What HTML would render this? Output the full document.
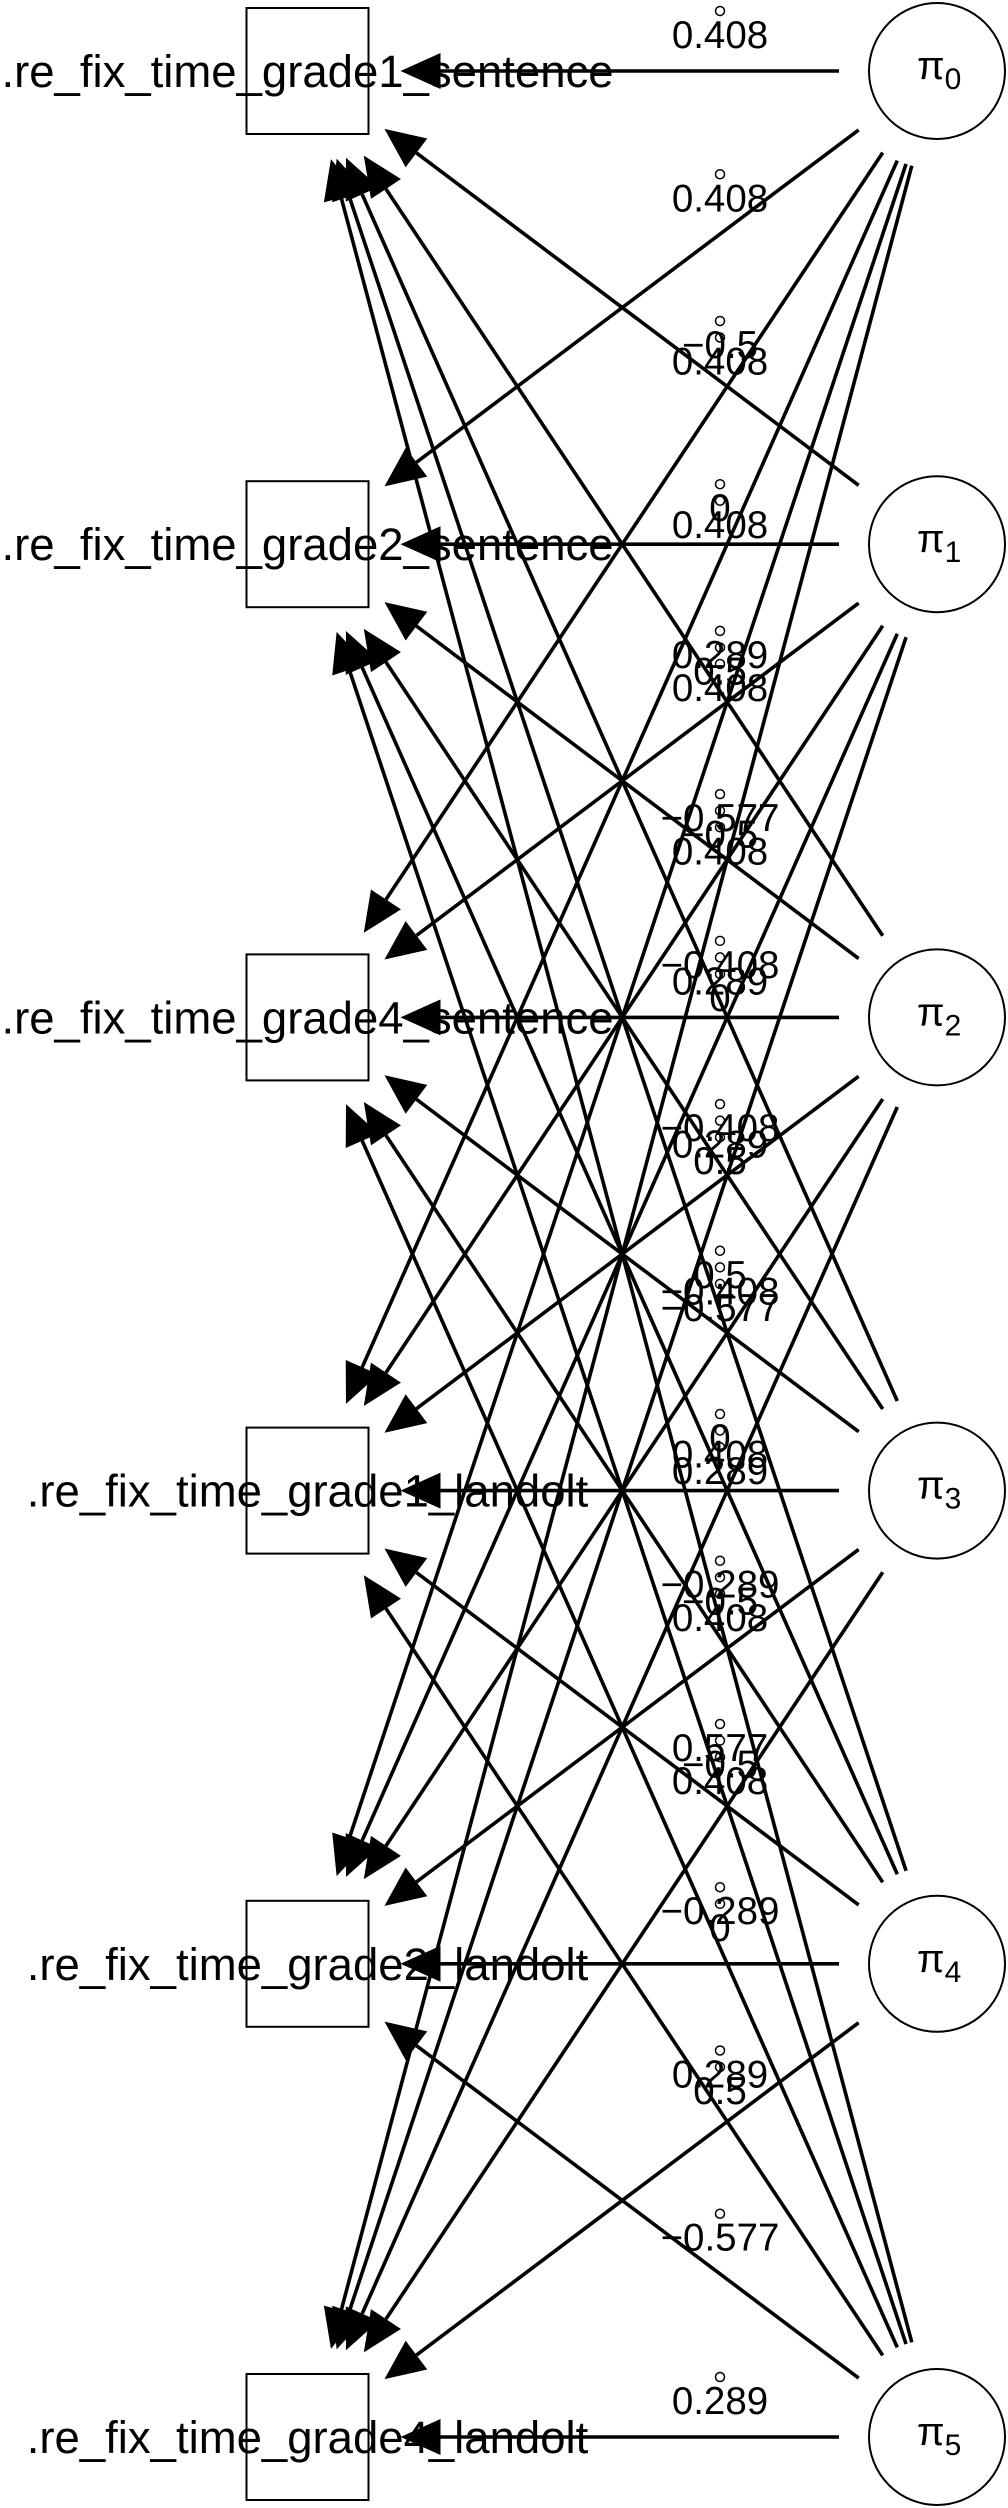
<!DOCTYPE html>
<html><head><meta charset="utf-8"><title>Path diagram</title>
<style>html,body{margin:0;padding:0;background:#fff}svg{display:block}</style></head>
<body>
<svg id="diagram" width="1008" height="2508" viewBox="0 0 1008 2508" xmlns="http://www.w3.org/2000/svg">
<g id="edges"></g>
<g id="elabels"></g>
<g id="nodes"></g>
</svg>
<script>
const observedNames = [".re_fix_time_grade1_sentence", ".re_fix_time_grade2_sentence", ".re_fix_time_grade4_sentence", ".re_fix_time_grade1_landolt", ".re_fix_time_grade2_landolt", ".re_fix_time_grade4_landolt"];
const latentIdx = ["0", "1", "2", "3", "4", "5"];
const loadPi0 = [0.408, 0.408, 0.408, 0.408, 0.408, 0.408];
const loadPi1 = [-0.5, 0, 0.5, -0.5, 0, 0.5];
const loadPi2 = [0.289, -0.577, 0.289, 0.289, -0.577, 0.289];
const loadPi3 = [-0.408, -0.408, -0.408, 0.408, 0.408, 0.408];
const loadPi4 = [0.5, 0, -0.5, -0.5, 0, 0.5];
const loadPi5 = [-0.289, 0.577, -0.289, 0.289, -0.577, 0.289];
const loadings = [loadPi0, loadPi1, loadPi2, loadPi3, loadPi4, loadPi5];

const NS = "http://www.w3.org/2000/svg";
const top0 = 71, step = 473.2;
const boxX = 307.5, boxHW = 61, boxHH = 63;
const cirX = 937, rx = 68, ry = 68;
const rowY = k => top0 + step * k;
const edgesG = document.getElementById("edges");
const labG = document.getElementById("elabels");
const nodesG = document.getElementById("nodes");
function fmt(v){ if (v === 0) return "0"; const s = String(Math.abs(v)).replace(/^0?\./, "0."); return (v < 0 ? "\u2212" : "") + s; }

for (let i = 0; i < loadings.length; i++) {
  for (let j = 0; j < observedNames.length; j++) {
    const y1 = rowY(i), y2 = rowY(j);
    const dx = boxX - cirX, dy = y2 - y1, L = Math.hypot(dx, dy);
    const ux = dx / L, uy = dy / L;
    const dEll = 1 / Math.hypot(ux / rx, uy / ry);
    const sD = dEll + 30;
    const tx = Math.abs(ux) > 1e-9 ? boxHW / Math.abs(ux) : 1e9;
    const ty = Math.abs(uy) > 1e-9 ? boxHH / Math.abs(uy) : 1e9;
    const ax = Math.abs(ux);
    const gap = (ax < 0.6 ? 26 : 20) + 12 * Math.max(0, (ax - 0.8) / 0.2);
    const eD = Math.min(tx, ty) + gap;
    const sx = cirX + ux * sD, sy = y1 + uy * sD;
    const ex = boxX - ux * eD, ey = y2 - uy * eD;
    const aLen = 40, aHalf = 18;
    const bx = ex - ux * aLen, by = ey - uy * aLen;
    const line = document.createElementNS(NS, "line");
    
    
    line.setAttribute("x1", sx); line.setAttribute("y1", sy);
    line.setAttribute("x2", bx); line.setAttribute("y2", by);
    line.setAttribute("stroke", "#000"); line.setAttribute("stroke-width", "3.6");
    edgesG.appendChild(line);
    const head = document.createElementNS(NS, "polygon");
    
    
    const px = -uy, py = ux;
    head.setAttribute("points", ex + "," + ey + " " + (bx + px * aHalf) + "," + (by + py * aHalf) + " " + (bx - px * aHalf) + "," + (by - py * aHalf));
    head.setAttribute("fill", "#000");
    edgesG.appendChild(head);
    const t = 0.345;
    const ly = y1 + (y2 - y1) * t - 36;
    const lx = 720;
    const ring = document.createElementNS(NS, "circle");
    
    
    ring.setAttribute("cx", lx); ring.setAttribute("cy", ly - 24); ring.setAttribute("r", 4.5);
    ring.setAttribute("fill", "none"); ring.setAttribute("stroke", "#000"); ring.setAttribute("stroke-width", "1.5");
    labG.appendChild(ring);
    const tx2 = document.createElementNS(NS, "text");
    
    
    tx2.setAttribute("x", lx); tx2.setAttribute("y", ly + 13);
    tx2.setAttribute("text-anchor", "middle");
    tx2.setAttribute("font-family", "Liberation Sans, sans-serif");
    tx2.setAttribute("font-size", "38.5");
    tx2.textContent = fmt(loadings[i][j]);
    labG.appendChild(tx2);
  }
}
for (let j = 0; j < observedNames.length; j++) {
  const y = rowY(j);
  const r = document.createElementNS(NS, "rect");
  
  
  r.setAttribute("x", boxX - boxHW); r.setAttribute("y", y - boxHH);
  r.setAttribute("width", boxHW * 2); r.setAttribute("height", boxHH * 2);
  r.setAttribute("fill", "none"); r.setAttribute("stroke", "#000"); r.setAttribute("stroke-width", "2");
  nodesG.appendChild(r);
  const t = document.createElementNS(NS, "text");
  
  
  t.setAttribute("x", boxX); t.setAttribute("y", y + 16);
  t.setAttribute("text-anchor", "middle");
  t.setAttribute("font-family", "Liberation Sans, sans-serif");
  t.setAttribute("font-size", "45.5");
  t.textContent = observedNames[j];
  nodesG.appendChild(t);
}
for (let i = 0; i < latentIdx.length; i++) {
  const y = rowY(i);
  const e = document.createElementNS(NS, "ellipse");
  
  
  e.setAttribute("cx", cirX); e.setAttribute("cy", y); e.setAttribute("rx", rx); e.setAttribute("ry", ry);
  e.setAttribute("fill", "#fff"); e.setAttribute("stroke", "#000"); e.setAttribute("stroke-width", "2");
  nodesG.appendChild(e);
  const t = document.createElementNS(NS, "text");
  
  
  t.setAttribute("x", cirX - 20); t.setAttribute("y", y + 8);
  t.setAttribute("font-family", "Liberation Sans, DejaVu Sans, sans-serif");
  t.setAttribute("font-size", "40");
  t.textContent = "\u03c0";
  const sub = document.createElementNS(NS, "tspan");
  
  
  sub.setAttribute("font-size", "30"); sub.setAttribute("dy", "10");
  sub.textContent = latentIdx[i];
  t.appendChild(sub);
  nodesG.appendChild(t);
}
</script>
</body></html>
